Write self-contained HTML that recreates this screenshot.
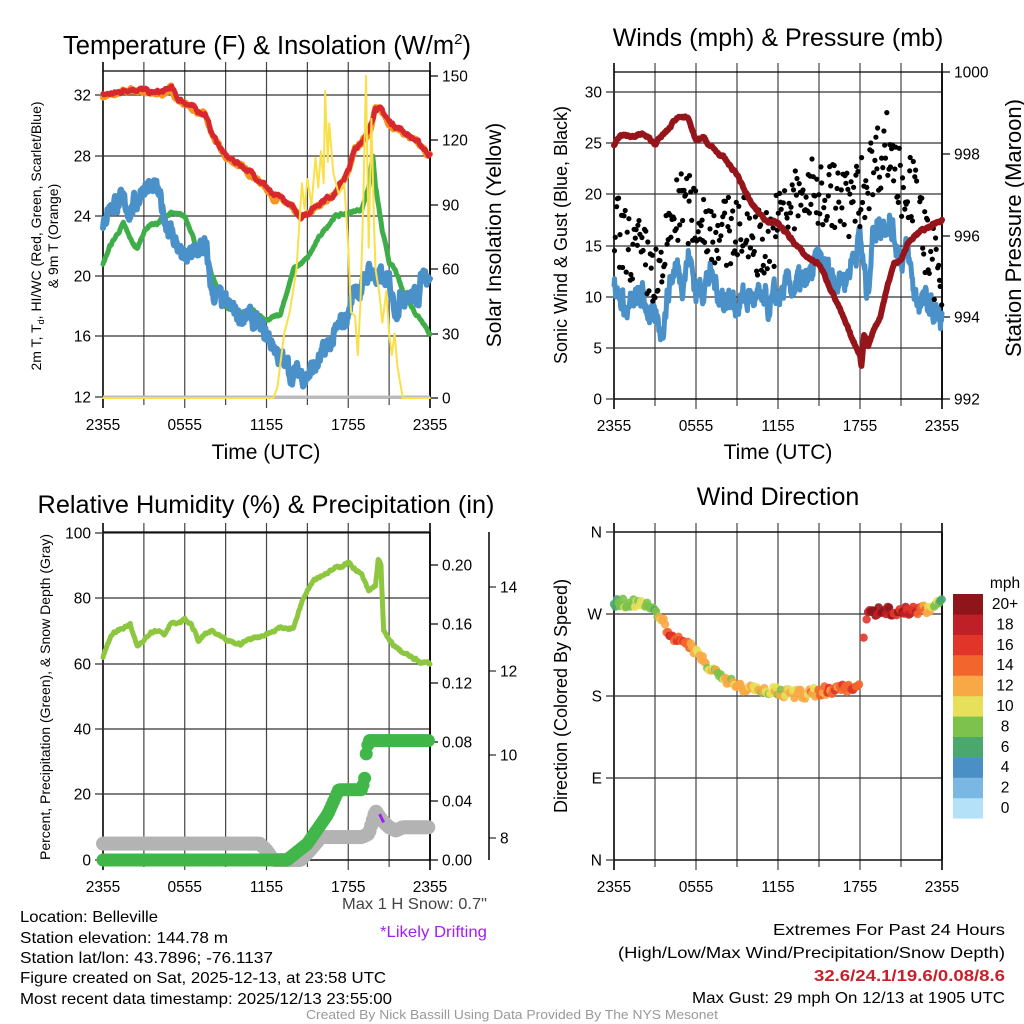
<!DOCTYPE html>
<html><head><meta charset="utf-8"><style>
html,body{margin:0;padding:0;background:#fff}
svg{display:block;font-family:"Liberation Sans",sans-serif}
</style></head><body>
<svg id="s" width="1024" height="1024" viewBox="0 0 1024 1024" xmlns="http://www.w3.org/2000/svg">
<rect width="1024" height="1024" fill="#fff"/>
<g id="g"></g>
<text x="267" y="54" font-size="25.5" text-anchor="middle">Temperature (F) &amp; Insolation (W/m<tspan dy="-10" font-size="15">2</tspan><tspan dy="10">)</tspan></text>
<text x="778" y="46" font-size="25" text-anchor="middle">Winds (mph) &amp; Pressure (mb)</text>
<text x="266" y="513" font-size="25.3" text-anchor="middle">Relative Humidity (%) &amp; Precipitation (in)</text>
<text x="778" y="505" font-size="25" text-anchor="middle">Wind Direction</text>
<text x="266" y="459" font-size="21" text-anchor="middle">Time (UTC)</text>
<text x="778" y="459" font-size="21" text-anchor="middle">Time (UTC)</text>
<text transform="translate(41,236) rotate(-90)" font-size="14" text-anchor="middle">2m T, T<tspan font-size="9" dy="3">d</tspan><tspan dy="-3">, HI/WC (Red, Green, Scarlet/Blue)</tspan></text>
<text transform="translate(58,236) rotate(-90)" font-size="14" text-anchor="middle">&amp; 9m T (Orange)</text>
<text transform="translate(501,235) rotate(-90)" font-size="21" text-anchor="middle">Solar Insolation (Yellow)</text>
<text transform="translate(567,235) rotate(-90)" font-size="18" text-anchor="middle">Sonic Wind &amp; Gust (Blue, Black)</text>
<text transform="translate(1021,228) rotate(-90)" font-size="22" text-anchor="middle">Station Pressure (Maroon)</text>
<text transform="translate(50,697) rotate(-90)" font-size="14" text-anchor="middle">Percent, Precipitation (Green), &amp; Snow Depth (Gray)</text>
<text transform="translate(567,696) rotate(-90)" font-size="18" text-anchor="middle">Direction (Colored By Speed)</text>
<g font-size="16">
<text x="20" y="922" textLength="138" lengthAdjust="spacingAndGlyphs">Location: Belleville</text>
<text x="20" y="943" textLength="208" lengthAdjust="spacingAndGlyphs">Station elevation: 144.78 m</text>
<text x="20" y="963" textLength="253" lengthAdjust="spacingAndGlyphs">Station lat/lon: 43.7896; -76.1137</text>
<text x="20" y="983" textLength="366" lengthAdjust="spacingAndGlyphs">Figure created on Sat, 2025-12-13, at 23:58 UTC</text>
<text x="20" y="1004" textLength="372" lengthAdjust="spacingAndGlyphs">Most recent data timestamp: 2025/12/13 23:55:00</text>
<text x="487" y="909" text-anchor="end" fill="#444" textLength="145" lengthAdjust="spacingAndGlyphs">Max 1 H Snow: 0.7"</text>
<text x="487" y="937" text-anchor="end" fill="#a020f0" textLength="107" lengthAdjust="spacingAndGlyphs">*Likely Drifting</text>
<text x="1005" y="935" text-anchor="end" textLength="232" lengthAdjust="spacingAndGlyphs">Extremes For Past 24 Hours</text>
<text x="1005" y="958" text-anchor="end" textLength="387" lengthAdjust="spacingAndGlyphs">(High/Low/Max Wind/Precipitation/Snow Depth)</text>
<text x="1005" y="981" text-anchor="end" fill="#c8202a" font-weight="bold" textLength="191" lengthAdjust="spacingAndGlyphs">32.6/24.1/19.6/0.08/8.6</text>
<text x="1005" y="1003" text-anchor="end" textLength="313" lengthAdjust="spacingAndGlyphs">Max Gust: 29 mph On 12/13 at 1905 UTC</text>
<text x="512" y="1019" text-anchor="middle" fill="#999" font-size="13" textLength="412" lengthAdjust="spacingAndGlyphs">Created By Nick Bassill Using Data Provided By The NYS Mesonet</text>
</g>
</svg>
<script>
var NS="http://www.w3.org/2000/svg",G=document.getElementById('g');
function el(t,a,txt){var e=document.createElementNS(NS,t);for(var k in a)e.setAttribute(k,a[k]);if(txt!=null)e.textContent=txt;G.appendChild(e);return e;}
var seed=7;function rnd(){seed=(seed*16807)%2147483647;return seed/2147483647;}
function interp(kp,h){for(var i=0;i<kp.length-1;i++){if(h<=kp[i+1][0]){var a=kp[i],b=kp[i+1],t=(h-a[0])/(b[0]-a[0]||1);return a[1]+(b[1]-a[1])*t;}}return kp[kp.length-1][1];}
function series(kp,jit,step){var out=[],n=0;for(var h=0;h<=24.001;h+=step){n+=(rnd()-0.5)*jit;n*=0.7;out.push([h,interp(kp,h)+n]);}return out;}
function path(pts,X,Y,col,w){var d="";pts.forEach(function(p,i){d+=(i?"L":"M")+X(p[0]).toFixed(1)+","+Y(p[1]).toFixed(1);});el('path',{d:d,fill:'none',stroke:col,'stroke-width':w,'stroke-linejoin':'round','stroke-linecap':'round'});}
function frame(x0,x1,y0,y1,ylabs,rlabs){
 var xs=[];for(var i=0;i<=8;i++)xs.push(x0+(x1-x0)*i/8);
 xs.forEach(function(x,i){el('line',{x1:x,x2:x,y1:y0-9,y2:y1+(i%2==0?10:7),stroke:(i==0||i==8)?'#000':'#444','stroke-width':(i==0||i==8)?1.6:1.2});});
 ylabs.forEach(function(l){el('line',{x1:x0-8,x2:x1,y1:l[0],y2:l[0],stroke:'#333','stroke-width':1.2});el('text',{x:x0-12,y:l[0]+5.5,'font-size':15.5,'text-anchor':'end'},l[1]);});
 el('line',{x1:x0,x2:x1,y1:y0,y2:y0,stroke:'#000','stroke-width':1.2});
 el('line',{x1:x0,x2:x1,y1:y1,y2:y1,stroke:'#000','stroke-width':1.2});
 el('line',{x1:x1,x2:x1,y1:y0,y2:y1,stroke:'#000','stroke-width':1.6});
 (rlabs||[]).forEach(function(l){el('line',{x1:x1,x2:x1+8,y1:l[0],y2:l[0],stroke:'#000','stroke-width':1.2});el('text',{x:x1+12,y:l[0]+5.5,'font-size':15.5},l[1]);});
 ['2355','0555','1155','1755','2355'].forEach(function(t,i){el('text',{x:xs[i*2],y:y1+32,'font-size':15.5,'text-anchor':'middle'},t);});
}
/* Panel 1 */
(function(){var x0=103,x1=430,X=function(h){return x0+h*(x1-x0)/24},Y=function(t){return 397-(t-12)*15.05},YS=function(v){return 398-v*322/150};
frame(x0,x1,71,398,[[95,'32'],[156,'28'],[216,'24'],[276,'20'],[336,'16'],[397,'12']],[[76,'150'],[140,'120'],[205,'90'],[269,'60'],[334,'30'],[398,'0']]);
el('line',{x1:x0,x2:x1,y1:397,y2:397,stroke:'#bbb','stroke-width':3});
var red=[[0,32.1],[1,32.2],[2,32.5],[3,32.4],[3.5,32.2],[4.5,32.3],[5,32.6],[5.5,31.8],[6,31.6],[7,31],[7.5,30.8],[8,29.5],[9,28],[10,27.5],[11,26.8],[12,26],[12.5,25.3],[13,25.3],[14,24.5],[14.5,24],[15,24.2],[16,25],[17,25.5],[18,27],[18.5,28.5],[19.5,29.6],[20,31.3],[20.5,31],[21,30.3],[22,29.7],[23,29],[24,28.1]];
var grn=[[0,20.8],[0.5,22],[1.5,23.5],[2,22.5],[2.5,21.8],[3,23],[3.5,23.5],[4,23.5],[4.5,24],[5,24.2],[6,24],[6.5,23],[7,21.5],[7.5,21.8],[8,20],[9,18],[10,17.6],[11,17.7],[12,17],[12.5,17.3],[13,17.5],[13.5,19],[14,20.5],[15,21.2],[16,22.8],[17,24],[18,24.2],[19,24.5],[19.5,26],[19.8,28],[20,26],[20.5,23],[21,21],[21.5,20.3],[22,19],[23,17.5],[23.5,17],[24,16.2]];
var blu=[[0,22.8],[0.3,24.5],[1,25],[2,24.5],[2.5,25],[3,26.2],[4,25.5],[4.5,24],[5,23],[5.5,22],[6,21],[7,21.8],[7.5,22],[8,19],[9,18],[10,17.5],[11,17],[12,16],[12.5,15.5],[13,14.5],[14,13.5],[15,13.5],[16,14.5],[17,16],[18,17.5],[18.5,19.5],[19,19],[19.5,20.5],[20,20],[21,19.5],[21.5,18],[22,19],[23,18.5],[23.5,20.2],[24,20.5]];
path(series(red,0.3,0.05).map(function(p){return[p[0],p[1]-0.1]}),X,Y,'#f7941d',6);
path(series(red,0.3,0.05),X,Y,'#d7282f',5);
path(series(grn,0.2,0.05),X,Y,'#3fae49',5);
path(series(blu,1.4,0.04),X,Y,'#4a90c9',6);
var yel=[[0,0],[12.5,0],[12.8,5],[13.3,30],[13.7,40],[14.2,60],[14.6,100],[14.8,88],[15,102],[15.3,90],[15.6,112],[15.8,98],[16,115],[16.2,100],[16.3,143],[16.5,110],[16.6,128],[16.9,105],[17.3,95],[17.7,100],[18,70],[18.2,40],[18.5,38],[18.7,20],[18.9,45],[19.1,90],[19.3,150],[19.5,70],[19.7,130],[19.9,80],[20,60],[20.3,48],[20.5,35],[20.8,50],[21,30],[21.2,20],[21.4,30],[21.6,15],[22,0],[24,0]];
path(yel,X,YS,'#f9e04b',2);
})();
/* Panel 2 */
(function(){var x0=614,x1=942,X=function(h){return x0+h*(x1-x0)/24},Y=function(v){return 399-v*307/30},YP=function(p){return 399-(p-992)*327/8};
frame(x0,x1,72,399,[[92,'30'],[143,'25'],[194,'20'],[246,'15'],[297,'10'],[348,'5'],[399,'0']],[[72,'1000'],[154,'998'],[236,'996'],[317,'994'],[399,'992']]);
var wb=[[0,11],[1,8.5],[2,10],[2.5,9],[3,7],[3.5,7],[4,11],[4.5,13],[5,12],[5.5,14],[6,10.5],[7,12],[8,10],[9,9.5],[10,10],[11,9],[11.5,9],[12,10],[13,11],[14,11],[15,13.5],[16,12],[17,12],[18,16],[18.5,10],[19,17],[19.5,17],[20,18],[20.5,16],[21,14],[21.5,14],[22,10],[23,9],[24,7.5]];
path(series(wb,3,0.04),X,Y,'#4a90c9',5);
var gb=[[0,17],[1,15],[2,14],[3,12],[3.5,11],[4,17],[5,19],[6,18],[7,17],[8,16],[9,17],[10,16],[11,15],[12,17],[13,19],[14,20],[15,20],[16,20],[17,19],[18,20],[19,23],[20,25],[21,21],[22,20],[23,14],[24,12]];
for(var i=0;i<330;i++){var h=i*24/330+rnd()*0.05;var v=interp(gb,h)+(rnd()-0.5)*7;v=Math.min(29,v);el('circle',{cx:X(h).toFixed(1),cy:Y(v).toFixed(1),r:2.6,fill:'#000'});}
var pr=[[0,998.2],[0.5,998.5],[1.5,998.4],[2,998.5],[3,998.25],[4,998.6],[4.5,998.85],[5,998.95],[5.5,998.8],[6,998.3],[6.5,998.4],[7,998.2],[8,997.9],[9,997.5],[10,996.8],[11,996.4],[12,996.3],[13,995.9],[14,995.5],[15,995.3],[16,994.6],[17,993.8],[17.5,993.4],[18,993.1],[18.1,992.8],[18.3,993.6],[18.6,993.3],[19,993.7],[19.5,994.0],[20,994.8],[20.5,995.3],[21,995.4],[21.5,995.8],[22,996],[23,996.2],[24,996.4]];
path(series(pr,0.08,0.05),X,YP,'#96151a',6);
})();
/* Panel 3 */
(function(){var x0=103,x1=430,X=function(h){return x0+h*(x1-x0)/24},Y=function(v){return 860-v*3.27};
frame(x0,x1,532,860,[[533,'100'],[598,'80'],[664,'60'],[729,'40'],[794,'20'],[860,'0']],[[565,'0.20'],[624,'0.16'],[683,'0.12'],[742,'0.08'],[801,'0.04'],[860,'0.00']]);
el('line',{x1:489,x2:489,y1:532,y2:860,stroke:'#000','stroke-width':1.5});
[[587,'14'],[671,'12'],[755,'10'],[838,'8']].forEach(function(l){el('line',{x1:489,x2:496,y1:l[0],y2:l[0],stroke:'#000'});el('text',{x:500,y:l[0]+5.5,'font-size':15.5},l[1]);});
var gr=[[0,5],[11.5,5],[12,3],[12.5,0],[14.5,0],[15.2,3],[16,7],[19,7],[19.5,8],[20,15],[20.5,12],[21,10],[21.5,9],[22,10],[24,10]];
var pc=[[0,0],[13.5,0],[15,5],[16.5,14],[17.3,21.5],[19,21.5],[19.2,25],[19.3,32],[19.5,36.5],[24,36.5]];
for(var h=0;h<=24;h+=0.12){el('circle',{cx:X(h),cy:Y(interp(gr,h)),r:7,fill:'#b3b3b3'});}
for(var h=0;h<=24;h+=0.12){el('circle',{cx:X(h),cy:Y(interp(pc,h)),r:6.5,fill:'#41b649'});}
var rh=[[0,62],[0.5,68],[1,70],[1.5,71],[2,72],[2.5,65],[3,67],[3.5,70],[4,70.5],[4.5,69],[5,73],[5.5,72],[6,73.5],[6.5,72],[7,67],[7.5,69],[8,70],[9,67],[10,66],[11,68],[12,69],[13,71],[14,71],[14.5,78],[15,83],[15.5,86],[16,87],[17,89],[18,91],[19,87],[19.5,82],[20,84],[20.2,92],[20.4,90],[20.6,70],[21,67],[21.5,65],[22,63.5],[23,61],[24,60]];
path(series(rh,1,0.05),X,Y,'#8dc63f',5);
el('line',{x1:X(20.3),x2:X(20.6),y1:Y(14),y2:Y(11.5),stroke:'#a020f0','stroke-width':3});
})();
/* Panel 4 */
(function(){var x0=614,x1=942,X=function(h){return x0+h*(x1-x0)/24},Y=function(d){return 860-d*328/360};
frame(x0,x1,532,860,[[532,'N'],[614,'W'],[696,'S'],[778,'E'],[860,'N']]);
var cols=['#b5e1f8','#7ab8e3','#4a8fc6','#4aa76d','#7cc24d','#e7e05b','#f8a945','#f2662d','#e03528','#bf1f27','#8e1519'];
for(var i=0;i<11;i++){el('rect',{x:953,y:798-i*20.4,width:30,height:20.6,fill:cols[i]});el('text',{x:1005,y:813-i*20.4,'font-size':15.5,'text-anchor':'middle'},i==10?'20+':String(i*2));}
el('text',{x:1005,y:588,'font-size':15.5,'text-anchor':'middle'},'mph');
var dir=[[0,282],[1,282],[2,280],[3,275],[3.5,265],[4,250],[4.5,243],[5,238],[6,230],[7,210],[8,200],[9,190],[10,188],[11,186],[12,185],[13,182],[14,182],[15,185],[16,187],[17,188],[18,191],[18.2,237],[18.4,268],[19,273],[20,273],[21,273],[22,273],[23,276],[24,284]];
var sp=[[0,7],[2,9],[3,7],[3.5,12],[4,16],[5,15],[6,11],[8,10],[10,11],[12,10],[14,12],[16,14],[18,15],[19,20],[21,18],[22,17],[23,11],[24,8]];
for(var h=0;h<=24;h+=0.11){if(h>18&&h<18.4&&rnd()<0.8)continue;var s=interp(sp,h)+(rnd()-0.5)*4;var c=cols[Math.max(0,Math.min(10,Math.round(s/2)))];el('circle',{cx:X(h).toFixed(1),cy:(Y(interp(dir,h))+(rnd()-0.5)*9).toFixed(1),r:4.2,fill:c,'fill-opacity':0.9});}
})();
</script>
</body></html>
